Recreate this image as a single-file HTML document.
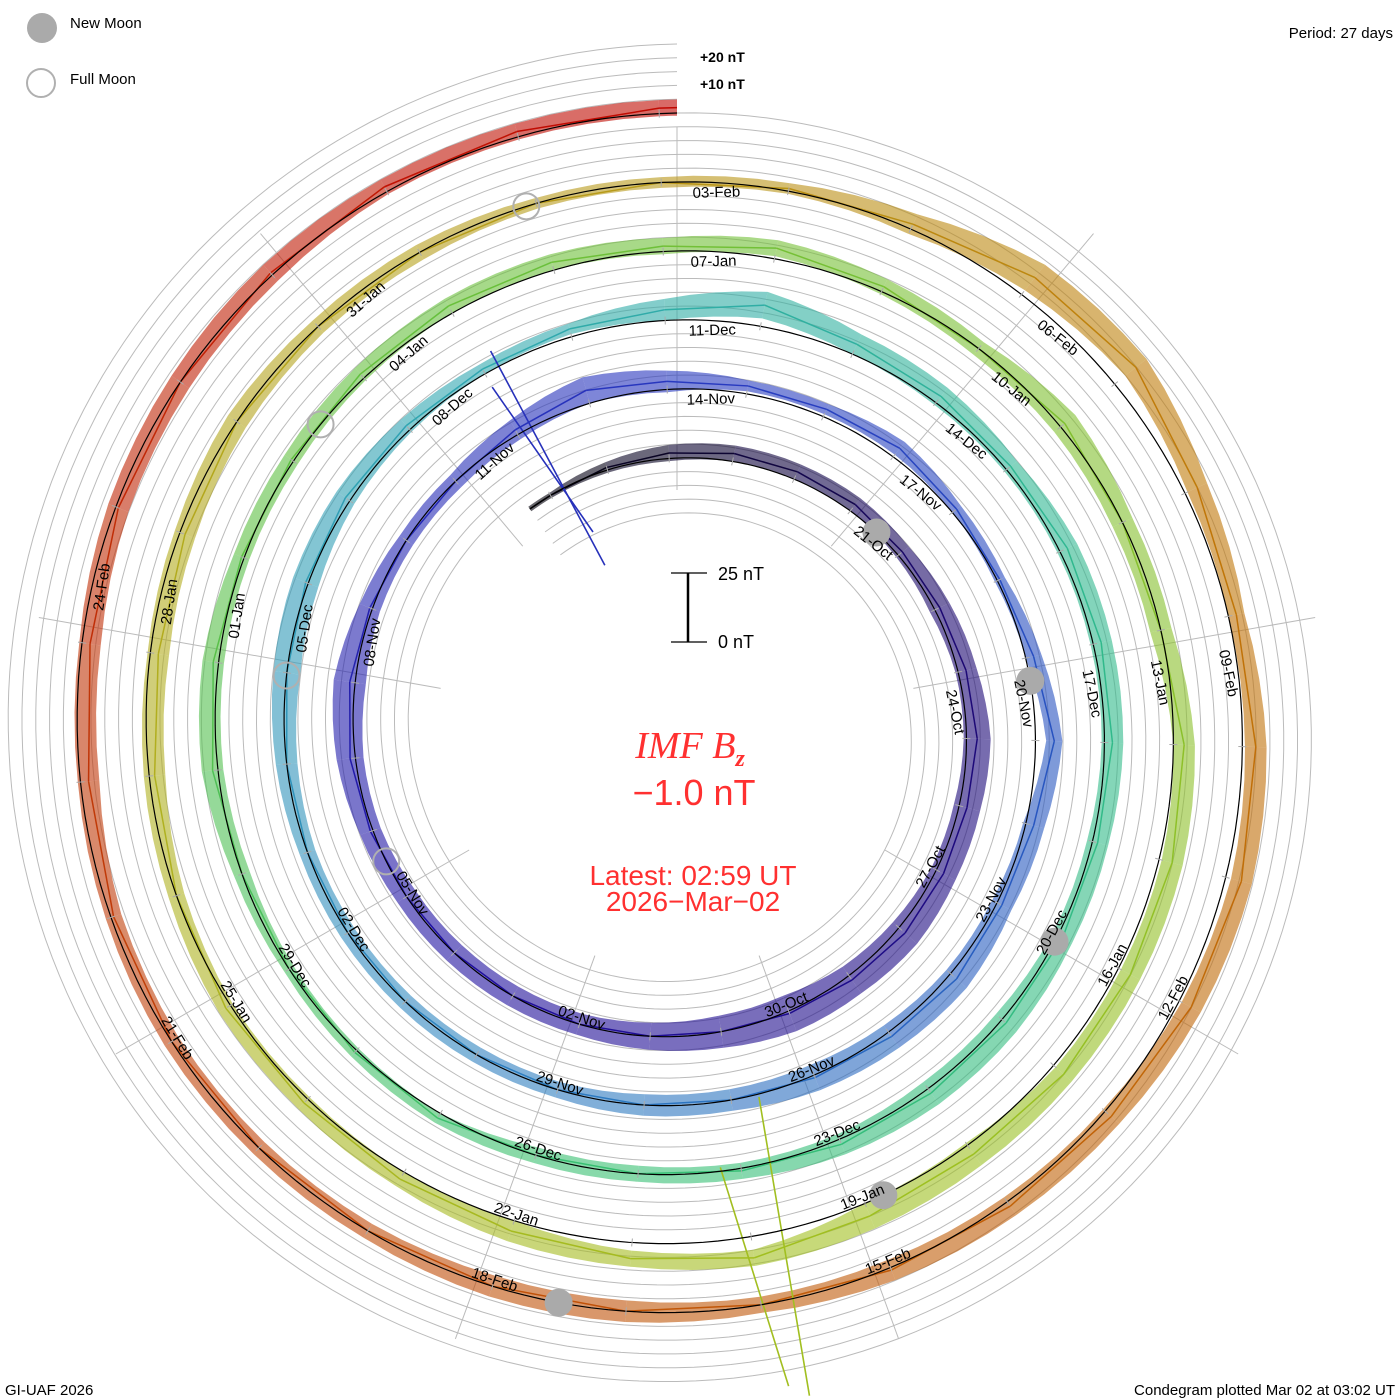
<!DOCTYPE html>
<html><head><meta charset="utf-8"><title>IMF Bz Condegram</title>
<style>
html,body{margin:0;padding:0;background:#fff;}
svg{display:block;font-family:"Liberation Sans",sans-serif;}
</style></head>
<body>
<svg id="chart" width="1400" height="1400" viewBox="0 0 1400 1400" xmlns="http://www.w3.org/2000/svg">
<rect x="0" y="0" width="1400" height="1400" fill="#fff"/>
<g id="grid"></g>
<g id="spokes"></g>
<g id="series"></g>
<g id="baseline"></g>
<g id="moons"></g>
<g id="labels"></g>

<g>
  <circle cx="42" cy="28" r="15" fill="#aaaaaa"/>
  <text x="70" y="28" font-size="15" fill="#000">New Moon</text>
  <circle cx="41" cy="83" r="14" fill="none" stroke="#b0b0b0" stroke-width="2"/>
  <text x="70" y="84" font-size="15" fill="#000">Full Moon</text>
</g>
<text x="1393" y="38" font-size="15" text-anchor="end" fill="#000">Period: 27 days</text>
<text x="700" y="62" font-size="14" font-weight="bold" fill="#000">+20 nT</text>
<text x="700" y="89" font-size="14" font-weight="bold" fill="#000">+10 nT</text>

<g>
  <line x1="688" y1="573" x2="688" y2="642" stroke="#000" stroke-width="2.5"/>
  <line x1="671" y1="573" x2="707" y2="573" stroke="#000" stroke-width="1.3"/>
  <line x1="671" y1="642" x2="707" y2="642" stroke="#000" stroke-width="1.3"/>
  <text x="718" y="580" font-size="18" fill="#000">25 nT</text>
  <text x="718" y="648" font-size="18" fill="#000">0 nT</text>
</g>

<text x="690" y="758" text-anchor="middle" font-family="'Liberation Serif',serif" font-style="italic" font-size="38" fill="#ff3030">IMF B<tspan font-size="24" font-weight="bold" dy="8">z</tspan></text>
<text x="694" y="805" text-anchor="middle" font-size="36" fill="#ff3030">−1.0 nT</text>
<text x="693" y="885" text-anchor="middle" font-size="28" fill="#ff3030">Latest: 02:59 UT</text>
<text x="693" y="911" text-anchor="middle" font-size="28" fill="#ff3030">2026−Mar−02</text>

<text x="5" y="1395" font-size="15" fill="#000">GI-UAF 2026</text>
<text x="1395" y="1395" font-size="15" text-anchor="end" fill="#000">Condegram plotted Mar 02 at 03:02 UT</text>
</svg>
<script>
// Daily mean Bz (nT), days 1..138 since 2025-Oct-15
const bzMean = [0,1,2,3,3,3,2,2,3,4,3,3,3,2,1,0,0,0,0,0,0,1,2,2,1,0,0,2,5,3,
3,3,4,2,1,3,7,3,2,3,2,1,0,0,0,0,0,0,0,0,0,1,2,2,2,3,4,
8,4,3,2,3,3,3,2,2,2,2,2,1,0,0,2,1,0,0,2,2,1,1,2,3,3,2,
4,2,0,2,0,0,4,5,5,5,4,5,8,6,4,3,2,2,0,-2,-3,-2,0,0,0,0,0,
1,2,8,10,5,3,5,6,5,3,2,1,0,0,0,0,0,0,-1,-3,-3,-1,0,1,2,2,2];
// Daily fluctuation half-range (nT)
const bzSpread = [1,2,3,3,3,3,3,4,4,5,5,5,6,6,7,6,5,4,4,4,4,4,5,6,4,3,3,4,5,4,
2,2,3,2,2,3,3,4,4,5,5,5,4,4,3,3,3,3,3,4,5,5,4,3,2,2,4,
5,4,4,3,4,4,4,4,4,5,5,4,3,3,3,2,2,2,3,4,4,3,3,3,3,3,3,
3,3,3,5,4,4,4,4,4,4,5,5,3,3,4,3,3,3,3,4,4,4,4,3,3,2,2,
2,4,6,5,4,3,4,4,4,4,4,4,3,4,4,3,3,3,3,4,4,4,4,4,3,3,3];
// Data spikes (glitch segments): start time/value and end time/value
const glitchT1 = [28.16, 28.0, 96.68, 97.2];
const glitchV1 = [32, 20, -50, -27];
const glitchT2 = [28.35, 28.4, 96.78, 96.9];
const glitchV2 = [-58, -45, 62, 57];
// Moon phases (days since 2025-Oct-15 00:00 UT)
const newMoonT = [6.52, 36.28, 66.07, 95.83, 125.5];
const fullMoonT = [21.55, 50.97, 80.42, 109.92];

const NS="http://www.w3.org/2000/svg";
const tStart=0.6, tEnd=138.124, REND=617, PITCH=69, CX=677, CY=730, K=2.7;
function rb(t){return REND-PITCH*(tEnd-t)/27;}
function ang(t){return (-90+(t-tEnd)*360/27)*Math.PI/180;}
function pt(t,off){const r=rb(t)+off,a=ang(t);return [CX+r*Math.cos(a),CY+r*Math.sin(a)];}
function el(tag,attrs,parent){const e=document.createElementNS(NS,tag);for(const k in attrs)e.setAttribute(k,attrs[k]);parent.appendChild(e);return e;}
function spiralPath(off,t0,t1){let d="";const n=Math.ceil((t1-t0)*8);for(let i=0;i<=n;i++){const t=t0+(t1-t0)*i/n;const p=pt(t,off);d+=(i?"L":"M")+p[0].toFixed(1)+","+p[1].toFixed(1);}return d;}

const stops=[[0,[0,0,0]],[8,[28,8,112]],[20,[32,16,160]],[30,[40,56,192]],[40,[40,96,192]],[47,[48,136,192]],[55,[48,168,176]],[62,[48,184,144]],[72,[56,192,112]],[80,[96,192,64]],[88,[128,192,48]],[96,[160,192,32]],[104,[176,176,32]],[111,[184,152,24]],[116,[192,120,8]],[124,[192,88,8]],[131,[192,56,8]],[139,[192,0,0]]];
function colorAt(t){for(let i=0;i<stops.length-1;i++){const a=stops[i],b=stops[i+1];if(t<=b[0]){const f=Math.max(0,(t-a[0])/(b[0]-a[0]));const c=a[1].map((v,j)=>Math.round(v+(b[1][j]-v)*f));return `rgb(${c[0]},${c[1]},${c[2]})`;}}return "rgb(192,0,0)";}

// grid
const grid=document.getElementById('grid');
for(let k=1;k<=4;k++){
  const p=el('path',{d:spiralPath(k*PITCH/5,tStart,tEnd),fill:'none',stroke:'#bbb','stroke-width':1},grid);
  
  
}
{const p=el('path',{d:spiralPath(PITCH,tEnd-27,tEnd),fill:'none',stroke:'#bbb','stroke-width':1},grid);

}
for(let k=-4;k<=-1;k++){
  const p=el('path',{d:spiralPath(k*PITCH/5,tStart,tStart+27),fill:'none',stroke:'#bbb','stroke-width':1},grid);
  
  
}
// spokes
const spokes=document.getElementById('spokes');
for(let n=0;n<9;n++){
  const a=(-90+40*n)*Math.PI/180;const rIn=240,rOut=(n===0?603:648);
  const l=el('line',{x1:CX+rIn*Math.cos(a),y1:CY+rIn*Math.sin(a),x2:CX+rOut*Math.cos(a),y2:CY+rOut*Math.sin(a),stroke:'#bbb','stroke-width':1},spokes);
  
  
}

// series
const series=document.getElementById('series');
const n=Math.min(bzMean.length,bzSpread.length);
const times=[tStart],means=[bzMean[0]],spreads=[bzSpread[0]];
for(let i=0;i<n;i++){const t=Math.min(i+1,tEnd);if(t<=times[times.length-1])continue;times.push(t);means.push(bzMean[i]);spreads.push(bzSpread[i]);}
if(times[times.length-1]<tEnd){times.push(tEnd);means.push(means[means.length-1]);spreads.push(spreads[spreads.length-1]);}
for(let i=0;i<times.length-1;i++){
  const t0=times[i],t1=times[i+1];
  const up=[],lo=[];const N=4;
  for(let j=0;j<=N;j++){const f=j/N;const t=t0+(t1-t0)*f;const m=means[i]+(means[i+1]-means[i])*f;const s=spreads[i]+(spreads[i+1]-spreads[i])*f;
    up.push(pt(t,(m+s)*K));lo.push(pt(t,(m-s)*K));}
  const pts=up.concat(lo.reverse()).map(p=>p[0].toFixed(1)+","+p[1].toFixed(1)).join(" ");
  const c=colorAt((t0+t1)/2);
  const poly=el('polygon',{points:pts,fill:c,'fill-opacity':0.6,stroke:'none'},series);
  
  
  const a=pt(t0,means[i]*K),b=pt(t1,means[i+1]*K);
  const ln=el('line',{x1:a[0],y1:a[1],x2:b[0],y2:b[1],stroke:c,'stroke-width':1.5},series);
  
  
}
for(let i=0;i<glitchT1.length;i++){
  const a=pt(glitchT1[i],glitchV1[i]*K),b=pt(glitchT2[i],glitchV2[i]*K);const c=colorAt(glitchT1[i]);
  const ln=el('line',{x1:a[0],y1:a[1],x2:b[0],y2:b[1],stroke:c,'stroke-width':1.6},series);
  
  
}
// baseline
const bl=document.getElementById('baseline');
{const p=el('path',{d:spiralPath(0,tStart,tEnd),fill:'none',stroke:'#000','stroke-width':1.2},bl);

}
for(let d=1;d<=138;d++){const a=pt(d,-4),b=pt(d,4);
 const l=el('line',{x1:a[0],y1:a[1],x2:b[0],y2:b[1],stroke:'#aaa','stroke-width':1},bl);
 
 }
// moons
const moons=document.getElementById('moons');
newMoonT.forEach(t=>{const p=pt(t,0);
  const c=el('circle',{cx:p[0],cy:p[1],r:14,fill:'#aaaaaa'},moons);
  
  });
fullMoonT.forEach(t=>{const p=pt(t,0);
  const c=el('circle',{cx:p[0],cy:p[1],r:13,fill:'none',stroke:'#b0b0b0','stroke-width':2},moons);
  
  });
// date labels
const labels=document.getElementById('labels');
const mon=["Jan","Feb","Mar","Apr","May","Jun","Jul","Aug","Sep","Oct","Nov","Dec"];
const base=Date.UTC(2025,9,15);
for(let t=6;t<=132;t+=3){
  const dt=new Date(base+t*86400000);
  const s=String(dt.getUTCDate()).padStart(2,'0')+"-"+mon[dt.getUTCMonth()];
  const adeg=-90+(t-tEnd)*360/27;
  let rot=adeg+90;rot=((rot%360)+360)%360;if(rot>180)rot-=360;
  let flip=false;if(rot>90){rot-=180;flip=true;}else if(rot<-90){rot+=180;flip=true;}
  const ta=flip?t:t+0.25;
  const p=pt(ta,flip?-6:-12);
  const tx=el('text',{x:p[0].toFixed(1),y:p[1].toFixed(1),'font-size':15,fill:'#000','text-anchor':flip?'middle':'start','dominant-baseline':'middle',transform:`rotate(${rot.toFixed(1)} ${p[0].toFixed(1)} ${p[1].toFixed(1)})`},labels);
  
  
  tx.textContent=s;
}
</script>
</body></html>
